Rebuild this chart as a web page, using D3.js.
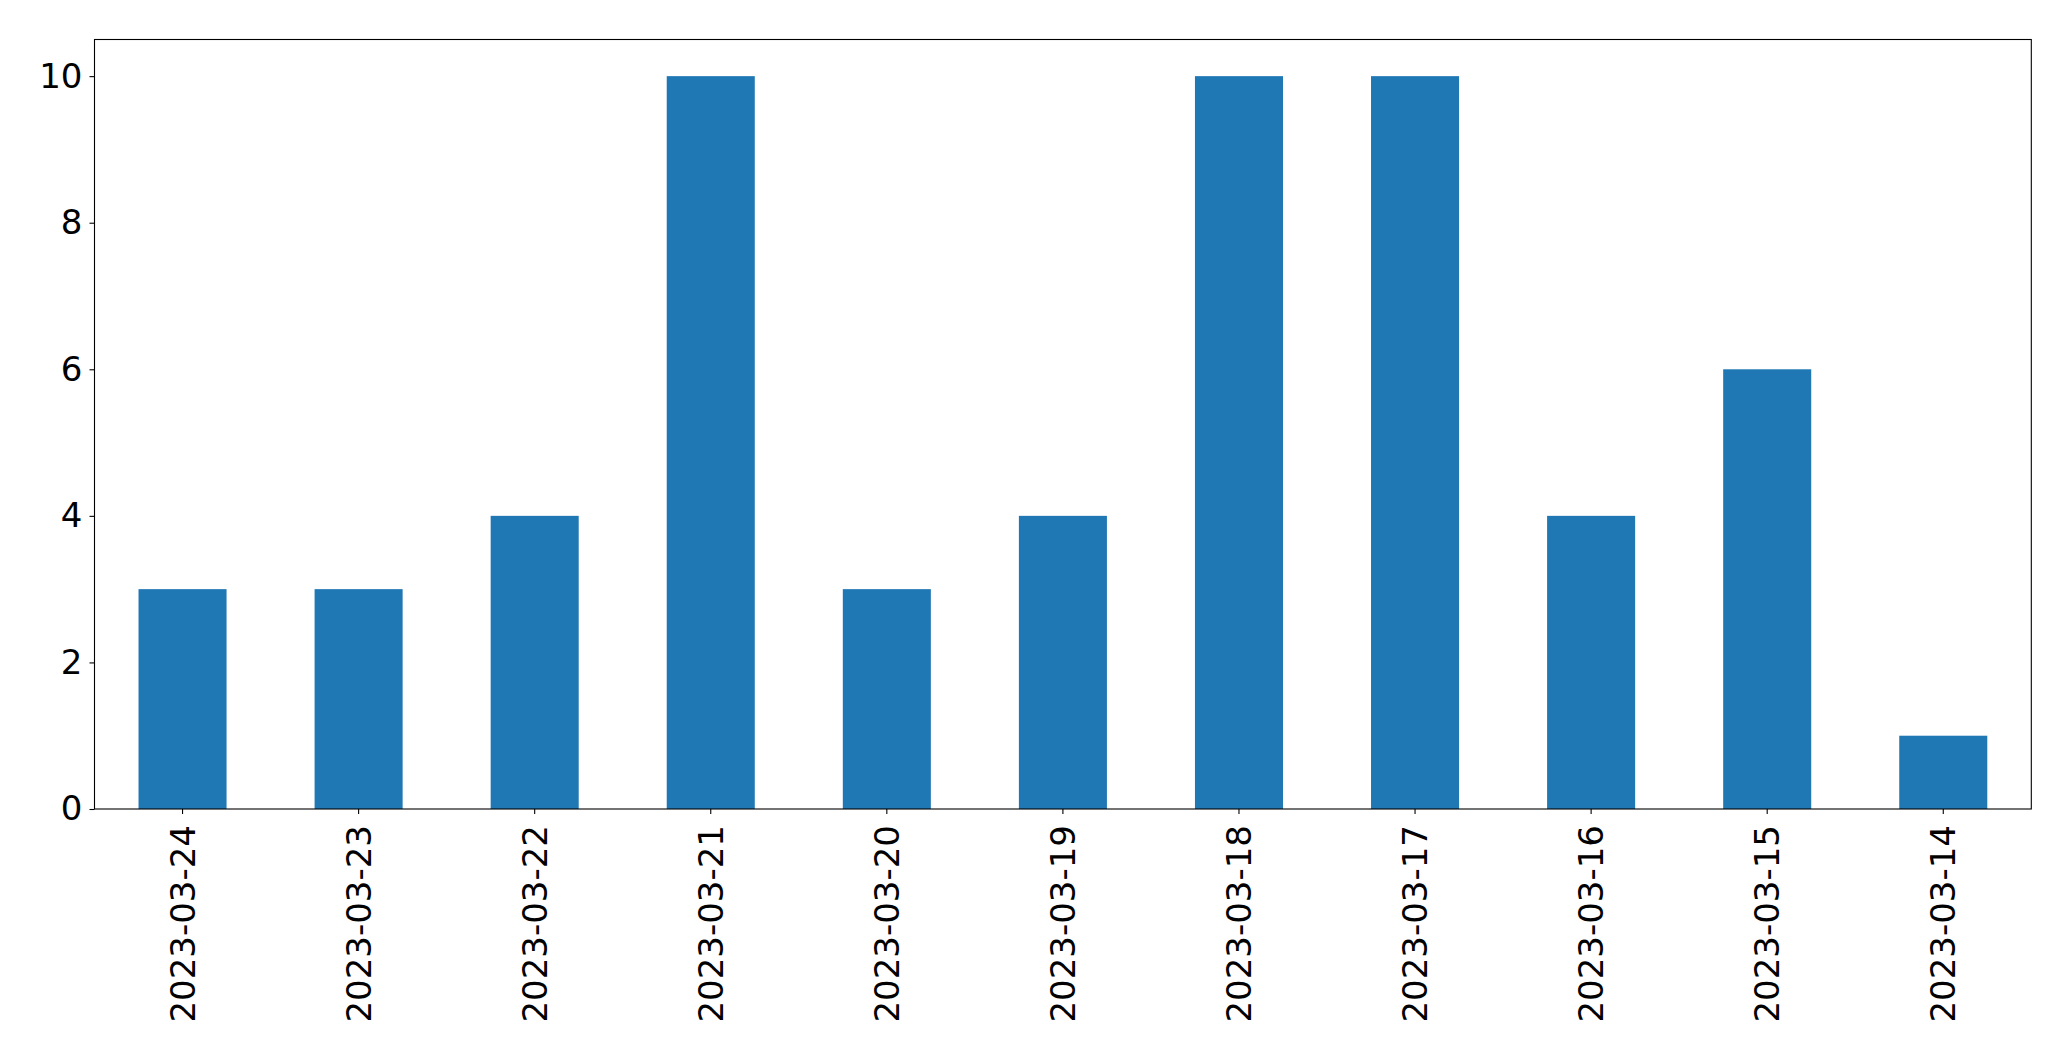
<!DOCTYPE html>
<html>
<head>
<meta charset="utf-8">
<script src="https://cdn.jsdelivr.net/npm/d3@7"></script>
<style>
  html, body { margin: 0; padding: 0; background: #fff; }
  svg { display: block; }
  text { font-family: "DejaVu Sans", sans-serif; fill: #000; }
</style>
</head>
<body>
<svg id="chart" width="2071" height="1061"></svg>
<script>
const categories = ["2023-03-24","2023-03-23","2023-03-22","2023-03-21","2023-03-20","2023-03-19","2023-03-18","2023-03-17","2023-03-16","2023-03-15","2023-03-14"];
const values = [3,3,4,10,3,4,10,10,4,6,1];
const yTicks = [0,2,4,6,8,10];

const W = 2071, H = 1061;
const m = { left: 94.5, right: 2031.3, top: 39.5, bottom: 809 };
const fontSize = 34;

const svg = d3.select("#chart");

const x = d3.scaleBand().domain(categories).range([m.left, m.right]).paddingInner(0.5).paddingOuter(0.25);
const y = d3.scaleLinear().domain([0, 10.5]).range([m.bottom, m.top]);

// bars
svg.append("g").selectAll("rect").data(values).join("rect")
  .attr("x", (d, i) => x(categories[i]))
  .attr("width", x.bandwidth())
  .attr("y", d => y(d))
  .attr("height", d => y(0) - y(d))
  .attr("fill", "#1f77b4");

// y axis
const yAxis = svg.append("g").attr("transform", `translate(${m.left},0)`)
  .call(d3.axisLeft(y).tickValues(yTicks).tickSize(5).tickPadding(7).tickFormat(d3.format("d")));
yAxis.select(".domain").remove();
yAxis.selectAll("line").attr("stroke", "#000").attr("stroke-width", 1.1);
yAxis.selectAll("text").attr("font-size", fontSize).attr("font-family", "DejaVu Sans, sans-serif").attr("fill", "#000");

// x axis
const xAxis = svg.append("g").attr("transform", `translate(0,${m.bottom})`)
  .call(d3.axisBottom(x).tickSize(5).tickPadding(0));
xAxis.select(".domain").remove();
xAxis.selectAll("line").attr("stroke", "#000").attr("stroke-width", 1.1);
xAxis.selectAll("text")
  .attr("font-size", fontSize)
  .attr("font-family", "DejaVu Sans, sans-serif")
  .attr("fill", "#000")
  .attr("text-anchor", "end")
  .attr("dy", null)
  .attr("dominant-baseline", "central")
  .attr("transform", "translate(0,16) rotate(-90)")
  .attr("x", 0).attr("y", 0);

// frame
svg.append("rect")
  .attr("x", m.left).attr("y", m.top)
  .attr("width", m.right - m.left).attr("height", m.bottom - m.top)
  .attr("fill", "none").attr("stroke", "#000").attr("stroke-width", 1.1);
</script>
</body>
</html>
